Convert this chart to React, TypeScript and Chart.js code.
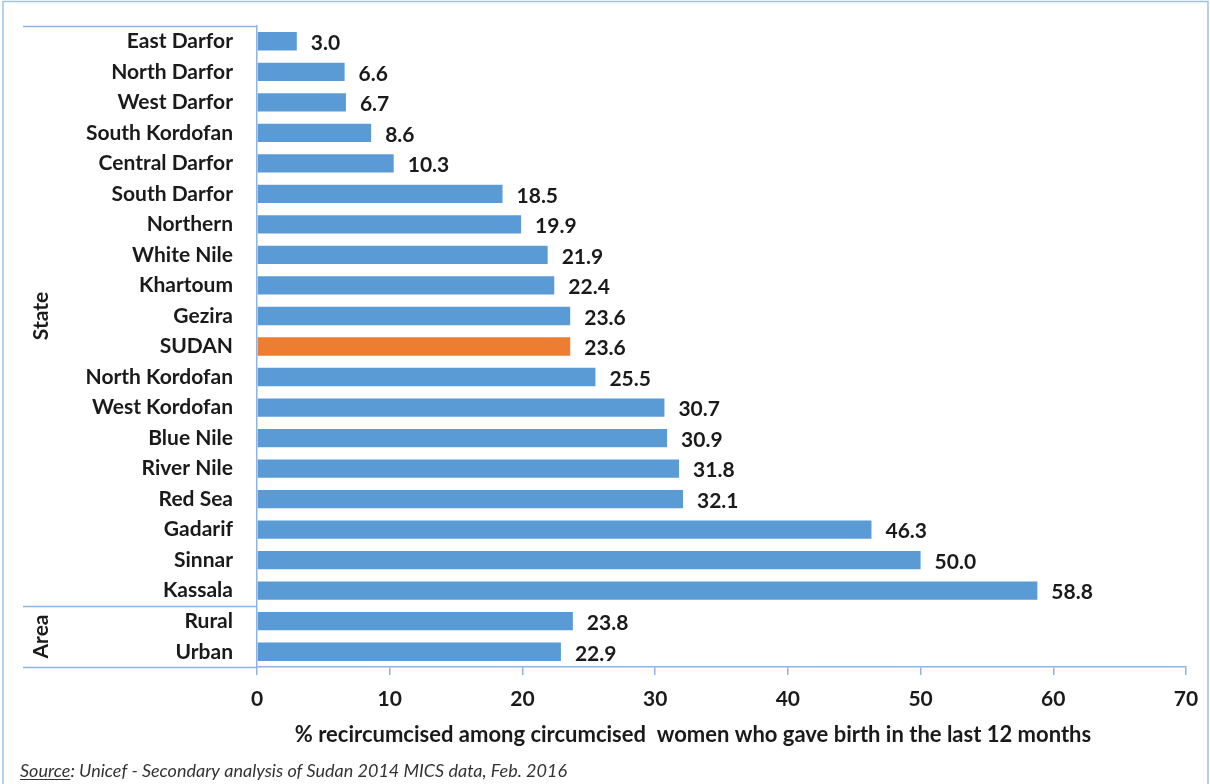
import React, { useEffect, useRef } from 'react';
import { Chart, registerables } from 'chart.js';

Chart.register(...registerables);

const categories = [
  'East Darfor', 'North Darfor', 'West Darfor', 'South Kordofan', 'Central Darfor',
  'South Darfor', 'Northern', 'White Nile', 'Khartoum', 'Gezira', 'SUDAN',
  'North Kordofan', 'West Kordofan', 'Blue Nile', 'River Nile', 'Red Sea',
  'Gadarif', 'Sinnar', 'Kassala', 'Rural', 'Urban',
];
const values = [
  3.0, 6.6, 6.7, 8.6, 10.3, 18.5, 19.9, 21.9, 22.4, 23.6, 23.6,
  25.5, 30.7, 30.9, 31.8, 32.1, 46.3, 50.0, 58.8, 23.8, 22.9,
];
const highlightCategory = 'SUDAN';
const groupNames = ['State', 'Area'];
const groupStarts = [0, 19];
const groupEnds = [18, 20];
const xMin = 0;
const xMax = 70;
const xStep = 10;
const axisTitle = '% recircumcised among circumcised  women who gave birth in the last 12 months';
const sourceLabel = 'Source';
const sourceText = ': Unicef - Secondary analysis of Sudan 2014 MICS data, Feb. 2016';

const BLUE = '#5B9BD5';
const ORANGE = '#ED7D31';
const AXIS = '#8DB4E2';
const TEXT = '#1a1a1a';
const FONT = 'Lato, "Open Sans", sans-serif';

export default function App() {
  const ref = useRef<HTMLCanvasElement | null>(null);

  useEffect(() => {
    const canvas = ref.current;
    if (!canvas) return;

    const decor = {
      id: 'decor',
      afterDatasetsDraw(chart: any) {
        const ctx = chart.ctx;
        const meta = chart.getDatasetMeta(0);
        ctx.save();
        ctx.font = `bold 21px ${FONT}`;
        ctx.fillStyle = TEXT;
        ctx.textAlign = 'left';
        ctx.textBaseline = 'middle';
        meta.data.forEach((bar: any, i: number) => {
          ctx.fillText(values[i].toFixed(1), bar.x + 14, bar.y + 2);
        });
        ctx.restore();
      },
      afterDraw(chart: any) {
        const ctx = chart.ctx;
        const y = chart.scales.y;
        const area = chart.chartArea;
        const step = y.getPixelForValue(1) - y.getPixelForValue(0);
        ctx.save();
        // outer frame
        ctx.strokeStyle = '#9DC3E6';
        ctx.lineWidth = 1.5;
        ctx.strokeRect(3, 1.5, 1205, 800);
        // group separator lines and labels
        ctx.strokeStyle = AXIS;
        ctx.lineWidth = 1.5;
        const edges: number[] = [];
        groupStarts.forEach((s, gi) => {
          const top = y.getPixelForValue(s) - step / 2;
          const bot = y.getPixelForValue(groupEnds[gi]) + step / 2;
          edges.push(top, bot);
          ctx.save();
          ctx.translate(41, (top + bot) / 2);
          ctx.rotate(-Math.PI / 2);
          ctx.font = `bold 21px ${FONT}`;
          ctx.fillStyle = TEXT;
          ctx.textAlign = 'center';
          ctx.textBaseline = 'middle';
          ctx.fillText(groupNames[gi], 0, 0);
          ctx.restore();
        });
        Array.from(new Set(edges.map((e) => Math.round(e) + 0.5))).forEach((e) => {
          ctx.beginPath();
          ctx.moveTo(23, e);
          ctx.lineTo(area.left, e);
          ctx.stroke();
        });
        // axis title
        ctx.font = `bold 22px ${FONT}`;
        ctx.fillStyle = TEXT;
        ctx.textAlign = 'center';
        ctx.textBaseline = 'middle';
        ctx.fillText(axisTitle, 693, 735);
        // source
        ctx.font = `italic 18px ${FONT}`;
        ctx.fillStyle = '#333';
        ctx.textAlign = 'left';
        ctx.textBaseline = 'alphabetic';
        const sx = 20;
        const sy = 777;
        ctx.fillText(sourceLabel, sx, sy);
        const w = ctx.measureText(sourceLabel).width;
        ctx.fillRect(sx, sy + 2, w, 1);
        ctx.fillText(sourceText, sx + w, sy);
        ctx.restore();
      },
    };

    const chart = new Chart(canvas, {
      type: 'bar',
      data: {
        labels: categories,
        datasets: [
          {
            data: values,
            backgroundColor: categories.map((c) => (c === highlightCategory ? ORANGE : BLUE)),
            barPercentage: 0.6,
            categoryPercentage: 1,
          },
        ],
      },
      options: {
        indexAxis: 'y',
        responsive: false,
        animation: false,
        layout: { padding: { top: 26, right: 24, left: 0, bottom: 0 } },
        plugins: { legend: { display: false }, tooltip: { enabled: false } },
        scales: {
          x: {
            min: xMin,
            max: xMax,
            afterFit: (s: any) => { s.height = 117; s.paddingLeft = 0; s.paddingRight = 0; },
            ticks: { stepSize: xStep, font: { family: FONT, size: 21, weight: 'bold' }, color: TEXT, padding: 12 },
            grid: { drawOnChartArea: false, drawTicks: true, tickLength: 8, color: AXIS, lineWidth: 1.5 },
            border: { display: true, color: AXIS, width: 1.5 },
          },
          y: {
            afterFit: (s: any) => { s.width = 257; s.paddingTop = 0; s.paddingBottom = 0; },
            ticks: { font: { family: FONT, size: 21, weight: 'bold' }, color: TEXT, padding: 24 },
            grid: { drawOnChartArea: false, drawTicks: false, color: AXIS },
            border: { display: true, color: AXIS, width: 1.5 },
          },
        },
      },
      plugins: [decor],
    });
    return () => chart.destroy();
  }, []);

  return (
    <div style={{ position: 'fixed', left: 0, top: 0, width: 1210, height: 784, background: '#fff' }}>
      <canvas ref={ref} width={1210} height={784} style={{ display: 'block' }} />
    </div>
  );
}
